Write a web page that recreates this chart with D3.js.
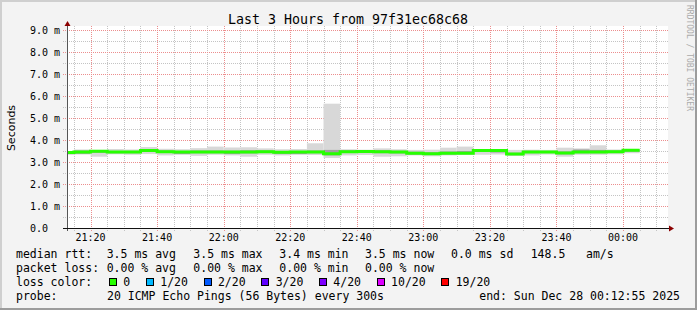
<!DOCTYPE html>
<html lang="en">
<head>
  <meta charset="utf-8">
  <title>Last 3 Hours</title>
  <script src="https://d3js.org/d3.v7.min.js"></script>
  <style>
    body { margin: 0; background: #f3f3f3; }
    text { font-family: "DejaVu Sans Mono", monospace; fill: #000; }
  </style>
</head>
<body>
<script>
  // --- data (ms), one entry per 5 minute step starting 21:10 ---
  var median   = [3.43, 3.45, 3.49, 3.45, 3.45, 3.52, 3.47, 3.45, 3.46, 3.45, 3.45, 3.46, 3.47, 3.44, 3.45, 3.45, 3.38, 3.47,
                  3.48, 3.47, 3.46, 3.40, 3.37, 3.40, 3.40, 3.52, 3.52, 3.36, 3.46, 3.46, 3.41, 3.45, 3.45, 3.47, 3.53];
  var innerLo  = [3.36, 3.37, 3.42, 3.40, 3.40, 3.46, 3.41, 3.36, 3.40, 3.40, 3.36, 3.39, 3.41, 3.36, 3.36, 3.40, 3.30, 3.41,
                  3.42, 3.40, 3.39, 3.34, 3.32, 3.35, 3.36, 3.46, 3.43, 3.31, 3.40, 3.41, 3.35, 3.40, 3.40, 3.42, 3.47];
  var innerHi  = [3.48, 3.52, 3.53, 3.50, 3.50, 3.58, 3.52, 3.50, 3.52, 3.52, 3.51, 3.53, 3.52, 3.50, 3.50, 3.52, 3.55, 3.53,
                  3.53, 3.53, 3.51, 3.47, 3.44, 3.48, 3.50, 3.56, 3.56, 3.42, 3.51, 3.50, 3.48, 3.57, 3.55, 3.52, 3.57];
  var smokeMin = [3.33, 3.34, 3.24, 3.35, 3.33, 3.36, 3.30, 3.33, 3.28, 3.33, 3.30, 3.24, 3.33, 3.30, 3.33, 3.32, 3.18, 3.30,
                  3.32, 3.24, 3.26, 3.30, 3.26, 3.30, 3.32, 3.33, 3.34, 3.28, 3.30, 3.34, 3.24, 3.33, 3.33, 3.35, 3.40];
  var smokeMax = [3.50, 3.57, 3.55, 3.59, 3.57, 3.68, 3.60, 3.58, 3.63, 3.70, 3.66, 3.67, 3.62, 3.58, 3.59, 3.85, 5.65, 3.58,
                  3.56, 3.62, 3.58, 3.55, 3.56, 3.65, 3.70, 3.58, 3.58, 3.55, 3.56, 3.55, 3.65, 3.62, 3.76, 3.57, 3.58];

  var yTicks = [0, 1, 2, 3, 4, 5, 6, 7, 8, 9];
  var yTickLabels = ["0.0", "1.0 m", "2.0 m", "3.0 m", "4.0 m", "5.0 m", "6.0 m", "7.0 m", "8.0 m", "9.0 m"];

  var medianStats = ["3.5 ms avg", "3.5 ms max", "3.4 ms min", "3.5 ms now", "0.0 ms sd", "148.5", "am/s"];
  var lossStats = ["0.00 % avg", "0.00 % max", "0.00 % min", "0.00 % now"];
  var lossLabels = ["0", "1/20", "2/20", "3/20", "4/20", "10/20", "19/20"];
  var lossColors = ["#26ff00", "#00b8ff", "#0059ff", "#5e00ff", "#7e00ff", "#dd00ff", "#ff0000"];

  var W = 697, H = 310;
  var tStart = new Date(2025, 11, 27, 21, 12, 55);
  var tEnd = new Date(2025, 11, 28, 0, 12, 55);
  var firstStep = new Date(2025, 11, 27, 21, 10, 0);
  var steps = d3.timeMinute.every(5).range(firstStep, d3.timeMinute.offset(firstStep, 5 * median.length));

  var svg = d3.select("body").append("svg")
    .attr("width", W).attr("height", H);

  // background and 3d frame
  svg.append("rect").attr("width", W).attr("height", H).attr("fill", "#f3f3f3");
  svg.append("rect").attr("x", 0).attr("y", 0).attr("width", W).attr("height", 2).attr("fill", "#cfcfcf");
  svg.append("rect").attr("x", 0).attr("y", 0).attr("width", 2).attr("height", H).attr("fill", "#cfcfcf");
  svg.append("rect").attr("x", 0).attr("y", H - 2).attr("width", W).attr("height", 2).attr("fill", "#9c9c9c");
  svg.append("rect").attr("x", W - 2).attr("y", 0).attr("width", 2).attr("height", H).attr("fill", "#9c9c9c");

  var x = d3.scaleTime().domain([tStart, tEnd]).range([67, 666]);
  var y = d3.scaleLinear().domain([0, 9]).range([228, 30]);

  // canvas
  svg.append("rect").attr("x", 67).attr("y", 26).attr("width", 601).attr("height", 202).attr("fill", "#fff");

  var grid = svg.append("g").attr("shape-rendering", "crispEdges");

  // minor horizontal grid every 0.5 ms
  grid.selectAll(".hminor").data(d3.range(0.5, 9.1, 1)).enter().append("line")
    .attr("x1", 63).attr("x2", 668)
    .attr("y1", function(d) { return Math.round(y(d)) + 0.5; })
    .attr("y2", function(d) { return Math.round(y(d)) + 0.5; })
    .attr("stroke", "#c4c4c4").attr("stroke-dasharray", "1,1");

  // minor vertical grid every 5 min
  var minorTimes = d3.timeMinute.every(5).range(tStart, tEnd).filter(function(t) { return t.getMinutes() % 20 != 0; });
  grid.selectAll(".vminor").data(minorTimes).enter().append("line")
    .attr("x1", function(d) { return Math.round(x(d)) + 0.5; })
    .attr("x2", function(d) { return Math.round(x(d)) + 0.5; })
    .attr("y1", 26).attr("y2", 231)
    .attr("stroke", "#c4c4c4").attr("stroke-dasharray", "1,1");

  // major grid
  grid.selectAll(".hmajor").data(yTicks.slice(1)).enter().append("line")
    .attr("x1", 63).attr("x2", 668)
    .attr("y1", function(d) { return Math.round(y(d)) + 0.5; })
    .attr("y2", function(d) { return Math.round(y(d)) + 0.5; })
    .attr("stroke", "#ec8e8e").attr("stroke-dasharray", "1,1");

  var majorTimes = d3.timeMinute.every(20).range(tStart, tEnd);
  grid.selectAll(".vmajor").data(majorTimes).enter().append("line")
    .attr("x1", function(d) { return Math.round(x(d)) + 0.5; })
    .attr("x2", function(d) { return Math.round(x(d)) + 0.5; })
    .attr("y1", 26).attr("y2", 232)
    .attr("stroke", "#ec8e8e").attr("stroke-dasharray", "1,1");

  // smoke
  function x0(i) { return Math.max(x(steps[i]), 67); }
  function x1(i) { return x(d3.timeMinute.offset(steps[i], 5)); }

  svg.append("g").selectAll("rect").data(median).enter().append("rect")
    .attr("x", function(d, i) { return x0(i); })
    .attr("width", function(d, i) { return x1(i) - x0(i); })
    .attr("y", function(d, i) { return y(smokeMax[i]); })
    .attr("height", function(d, i) { return y(smokeMin[i]) - y(smokeMax[i]); })
    .attr("fill", "#d8d8d8");

  svg.append("g").selectAll("rect").data(median).enter().append("rect")
    .attr("x", function(d, i) { return x0(i); })
    .attr("width", function(d, i) { return x1(i) - x0(i); })
    .attr("y", function(d, i) { return y(innerHi[i]); })
    .attr("height", function(d, i) { return y(innerLo[i]) - y(innerHi[i]); })
    .attr("fill", "#a0a0a0");

  // median line
  var pts = median.map(function(d, i) { return [x0(i), y(d)]; });
  pts.push([x1(median.length - 1), y(median[median.length - 1])]);
  svg.append("path")
    .attr("d", d3.line().curve(d3.curveStepAfter)(pts))
    .attr("fill", "none").attr("stroke", lossColors[0]).attr("stroke-width", 3);

  // axes
  svg.append("line").attr("x1", 67.5).attr("x2", 67.5).attr("y1", 231).attr("y2", 25)
    .attr("stroke", "#555").attr("shape-rendering", "crispEdges");
  svg.append("line").attr("x1", 63).attr("x2", 670).attr("y1", 228.5).attr("y2", 228.5)
    .attr("stroke", "#111").attr("shape-rendering", "crispEdges");
  svg.append("path").attr("d", "M64.5,26 L67.5,21 L70.5,26 Z").attr("fill", "#8b0000");
  svg.append("path").attr("d", "M669,225.5 L674,228.5 L669,231.5 Z").attr("fill", "#8b0000");

  // tick labels
  svg.selectAll(".ylab").data(yTicks).enter().append("text")
    .attr("x", 30).attr("y", function(d) { return y(d) + 3.5; })
    .style("font-size", "10px")
    .text(function(d, i) { return yTickLabels[i]; });

  var fmt = d3.timeFormat("%H:%M");
  svg.selectAll(".xlab").data(majorTimes).enter().append("text")
    .attr("x", function(d) { return x(d); }).attr("y", 241)
    .attr("text-anchor", "middle")
    .style("font-size", "10px")
    .text(fmt);

  // title and axis label
  svg.append("text").attr("x", 348).attr("y", 24).attr("text-anchor", "middle")
    .style("font-size", "13.3px").text("Last 3 Hours from 97f31ec68c68");
  svg.append("text").attr("transform", "translate(15,128) rotate(-90)").attr("text-anchor", "middle")
    .style("font-family", "DejaVu Sans").style("font-size", "11px").text("Seconds");
  svg.append("text").attr("transform", "translate(686.5,5) rotate(90)")
    .style("font-size", "8px").style("fill", "#aaa").text("RRDTOOL / TOBI OETIKER");

  // legend
  var lg = svg.append("g").style("font-size", "11.5px").attr("xml:space", "preserve");
  lg.append("text").attr("x", 16).attr("y", 258).text("median rtt:");
  var medX = [106.7, 193.3, 279.3, 365, 451, 530.7, 586];
  medianStats.forEach(function(s, i) {
    lg.append("text").attr("x", medX[i]).attr("y", 258).text(s);
  });
  lg.append("text").attr("x", 16).attr("y", 272).text("packet loss:");
  lossStats.forEach(function(s, i) {
    lg.append("text").attr("x", medX[i]).attr("y", 272).text(s);
  });
  lg.append("text").attr("x", 16).attr("y", 286).text("loss color:");
  var bx = 109;
  lossLabels.forEach(function(s, i) {
    lg.append("rect").attr("x", bx + 0.5).attr("y", 278.5).attr("width", 7).attr("height", 7)
      .attr("fill", lossColors[i]).attr("stroke", "#000").attr("shape-rendering", "crispEdges");
    var t = lg.append("text").attr("x", bx + 14.3).attr("y", 286).text(s);
    bx = bx + 14.3 + t.node().getComputedTextLength() + 15.7;
  });
  lg.append("text").attr("x", 16).attr("y", 300).text("probe:");
  lg.append("text").attr("x", 107).attr("y", 300).text("20 ICMP Echo Pings (56 Bytes) every 300s");
  lg.append("text").attr("x", 680).attr("y", 300).attr("text-anchor", "end").text("end: Sun Dec 28 00:12:55 2025");
</script>
</body>
</html>
